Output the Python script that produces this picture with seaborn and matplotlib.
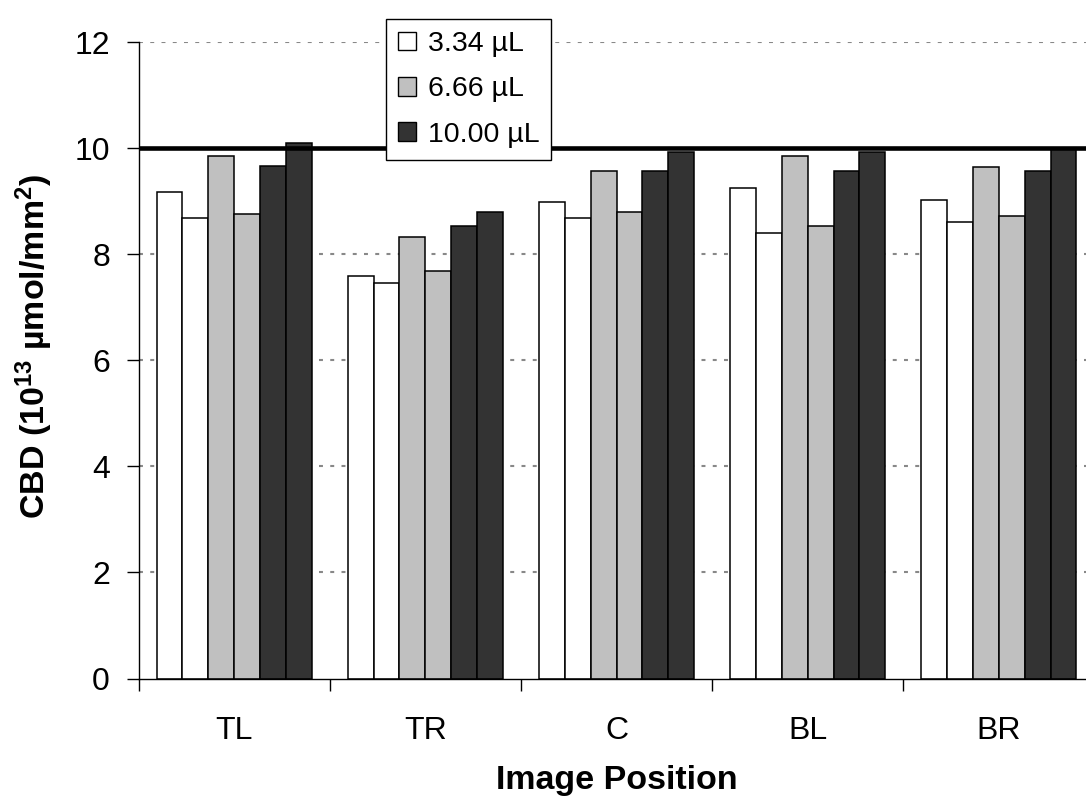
import numpy as np
import pandas as pd
import matplotlib
matplotlib.use("Agg")
import matplotlib.pyplot as plt
from matplotlib.patches import Patch
from matplotlib.ticker import FixedLocator
import seaborn as sns

# ---- data ----
positions = ["TL", "TR", "C", "BL", "BR"]
vol_334_a = [9.18, 7.59, 8.98, 9.25, 9.02]
vol_334_b = [8.68, 7.46, 8.69, 8.40, 8.61]
vol_666_a = [9.86, 8.33, 9.57, 9.86, 9.65]
vol_666_b = [8.76, 7.69, 8.79, 8.54, 8.72]
vol_1000_a = [9.66, 8.54, 9.57, 9.57, 9.57]
vol_1000_b = [10.11, 8.79, 9.93, 9.93, 9.98]
legend_labels = ["3.34 µL", "6.66 µL", "10.00 µL"]
reference_level = 10
y_ticks = [0, 2, 4, 6, 8, 10, 12]

series = {
    "3.34 a": vol_334_a, "3.34 b": vol_334_b,
    "6.66 a": vol_666_a, "6.66 b": vol_666_b,
    "10.00 a": vol_1000_a, "10.00 b": vol_1000_b,
}
rows = []
for name, vals in series.items():
    for pos, v in zip(positions, vals):
        rows.append({"position": pos, "series": name, "value": v})
df = pd.DataFrame(rows)

c_white, c_gray, c_dark = "#FFFFFF", "#C0C0C0", "#333333"
palette = [c_white, c_white, c_gray, c_gray, c_dark, c_dark]

sns.set_style("white")
plt.rcParams["font.family"] = ["Liberation Sans", "DejaVu Sans"]
plt.rcParams["text.color"] = "black"
plt.rcParams["axes.labelcolor"] = "black"
plt.rcParams["xtick.color"] = "black"
plt.rcParams["ytick.color"] = "black"
plt.rcParams["mathtext.fontset"] = "custom"
plt.rcParams["mathtext.rm"] = "Liberation Sans"
plt.rcParams["mathtext.bf"] = "Liberation Sans:bold"
plt.rcParams["mathtext.default"] = "bf"

W, H = 1086, 799
fig = plt.figure(figsize=(W / 100, H / 100), dpi=100)
ax = fig.add_axes([138.5 / W, (H - 678.5) / H, 956 / W, (678.5 - 42.3) / H])

sns.barplot(data=df, x="position", y="value", hue="series",
            order=positions, hue_order=list(series.keys()),
            palette=palette, saturation=1, width=0.81, gap=0,
            edgecolor="black", linewidth=1.1, errorbar=None,
            legend=False, ax=ax, zorder=3)

ax.set_xlim(-0.5, len(positions) - 0.5)
ax.set_ylim(0, 12)
ax.set_yticks(y_ticks)

# grid
ax.yaxis.grid(True, color="#888888", linewidth=1.5, linestyle=(0, (1.9, 3.5)), zorder=0)
ax.xaxis.grid(False)
ax.set_axisbelow(True)
gl = ax.get_ygridlines()
gl[0].set_visible(False)
ax.axhline(reference_level, color="black", linewidth=3.3, zorder=4)

for s in ["top", "right"]:
    ax.spines[s].set_visible(False)
for s in ["left", "bottom"]:
    ax.spines[s].set_color("black")
    ax.spines[s].set_linewidth(1.0)
    ax.spines[s].set_zorder(5)

ax.tick_params(axis="y", which="major", direction="out", length=8.6, width=1.0,
               color="black", labelcolor="black", pad=12, labelsize=23, left=True)
ax.tick_params(axis="x", which="major", length=0, pad=27, labelsize=23,
               labelcolor="black", bottom=True)
ax.xaxis.set_minor_locator(FixedLocator(np.arange(-0.5, len(positions), 1.0)))
ax.tick_params(axis="x", which="minor", direction="out", length=8.6, width=1.0,
               color="black", bottom=True)

ax.set_xlabel("Image Position", fontsize=24.5, fontweight="bold", labelpad=14)
ax.set_ylabel("CBD (10$^{13}$ µmol/mm$^{2}$)", fontsize=24.5, fontweight="bold", labelpad=14)
ax.yaxis.label.set_y(0.522)

handles = [Patch(facecolor=c, edgecolor="black", linewidth=1.0)
           for c in [c_white, c_gray, c_dark]]
leg = ax.legend(handles, legend_labels, loc="upper left",
                bbox_to_anchor=((385.7 - 138.5) / 956, (678.5 - 19) / (678.5 - 42.3)),
                bbox_transform=ax.transAxes, borderaxespad=0,
                fontsize=20.5, frameon=True, fancybox=False, framealpha=1,
                edgecolor="black", handlelength=0.64, handleheight=0.64,
                handletextpad=0.42, borderpad=0.42, labelspacing=0.68)
leg.get_frame().set_linewidth(1.0)
leg.set_zorder(10)

fig.savefig("out.png", dpi=100)
